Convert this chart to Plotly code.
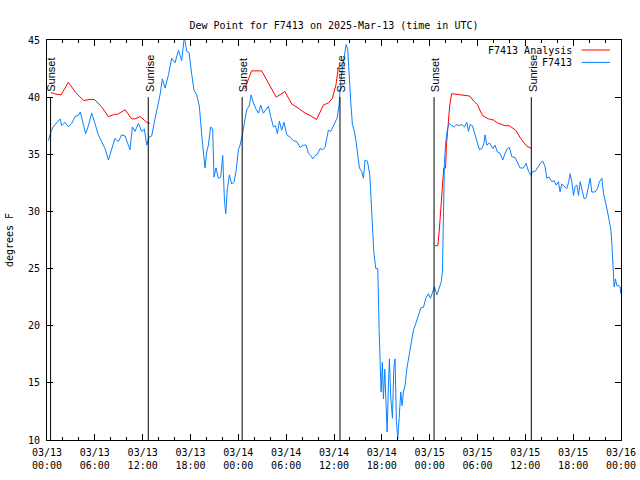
import plotly.graph_objects as go
import pandas as pd

START = pd.Timestamp("2025-03-13 00:00")
END = pd.Timestamp("2025-03-16 00:00")

# F7413 observations: hours since 2025-03-13 00:00 UTC, dew point (F)
obs_hours = [
    0.17, 0.50, 0.79, 1.21, 1.63, 1.84, 2.26, 2.68, 3.10, 3.51, 3.93, 4.18, 4.56, 4.85,
    5.19, 5.60, 6.02, 6.44, 6.86, 7.28, 7.70, 8.11, 8.53, 8.95, 9.37, 9.79, 10.20, 10.41,
    10.71, 11.04, 11.46, 11.88, 12.21, 12.51, 12.80, 13.13, 13.55, 13.97, 14.18, 14.47,
    14.81, 15.22, 15.64, 16.06, 16.48, 16.90, 17.23, 17.52, 17.82, 18.15, 18.44, 18.78,
    19.11, 19.41, 19.62, 19.82, 20.03, 20.24, 20.53, 20.78, 20.95, 21.20, 21.50, 21.79,
    22.04, 22.25, 22.42, 22.63, 22.88, 23.17, 23.46, 23.71, 24.01, 24.22, 24.50, 24.76,
    25.05, 25.35, 25.60, 25.89, 26.18, 26.52, 26.81, 27.14, 27.48, 27.77, 28.06, 28.40,
    28.65, 28.90, 29.15, 29.44, 29.74, 30.07, 30.49, 30.90, 31.33, 31.74, 32.16, 32.50,
    32.79, 33.08, 33.33, 33.63, 33.92, 34.25, 34.59, 34.88, 35.09, 35.30, 35.60, 35.85,
    36.14, 36.40, 36.64, 36.81, 37.05, 37.30, 37.52, 37.72, 37.89, 38.10, 38.31, 38.56,
    38.77, 38.98, 39.19, 39.48, 39.69, 39.90, 40.19, 40.49, 40.74, 40.99, 41.24, 41.49,
    41.66, 41.78, 41.91, 42.07, 42.20, 42.37, 42.50, 42.66, 42.83, 42.95, 43.13, 43.33,
    43.50, 43.66, 43.83, 44.00, 44.17, 44.38, 44.54, 44.71, 44.92, 45.13, 45.42, 45.67,
    45.96, 46.26, 46.59, 46.93, 47.22, 47.52, 47.84, 48.10, 48.35, 48.60, 48.90, 49.19,
    49.44, 49.60, 49.73, 49.85, 50.03, 50.23, 50.44, 50.78, 51.11, 51.41, 51.69, 52.03,
    52.36, 52.66, 52.86, 53.07, 53.36, 53.70, 54.04, 54.24, 54.54, 54.79, 54.95, 55.17,
    55.50, 55.92, 56.20, 56.50, 56.83, 57.17, 57.46, 57.76, 58.00, 58.30, 58.72, 59.00,
    59.35, 59.76, 60.10, 60.40, 60.69, 60.94, 61.23, 61.52, 61.86, 62.19, 62.48, 62.70,
    62.98, 63.32, 63.61, 63.86, 64.15, 64.36, 64.57, 64.87, 65.20, 65.45, 65.62, 65.83,
    66.04, 66.25, 66.46, 66.67, 66.88, 67.10, 67.38, 67.63, 67.92, 68.13, 68.34, 68.76,
    69.05, 69.30, 69.60, 69.80, 70.22, 70.55, 70.73, 70.85, 70.98, 71.06, 71.14, 71.30,
    71.48, 71.75, 71.90, 71.97,
]
obs_dewpoint = [
    36.2, 37.0, 37.4, 37.8, 38.1, 37.5, 37.8, 37.4, 37.7, 38.3, 38.4, 38.7, 37.5, 36.8,
    37.5, 38.6, 37.7, 36.7, 36.1, 35.5, 34.5, 35.4, 36.4, 36.1, 36.7, 36.6, 35.8, 35.4,
    37.4, 37.0, 37.7, 37.0, 37.2, 35.8, 36.5, 36.6, 38.1, 39.5, 40.2, 41.6,
    40.8, 41.9, 43.4, 43.0, 44.1, 43.2, 45.3, 44.0, 43.9, 42.0, 40.6, 40.2,
    39.2, 36.7, 34.9, 33.8, 35.2, 35.8, 37.4, 37.2, 33.0, 33.8, 32.9, 33.0,
    34.9, 31.1, 29.8, 32.0, 33.2, 32.4, 32.6, 33.5, 35.4, 35.8, 36.7, 37.8,
    38.9, 39.2, 40.2, 39.5, 39.0, 38.6, 39.3, 38.6, 38.9, 39.2, 38.3, 37.4,
    37.5, 36.8, 37.9, 37.1, 37.8, 36.7, 36.5, 36.2, 36.1, 35.6, 35.8, 35.8,
    35.1, 34.9, 34.6, 34.9, 35.0, 35.5, 35.4, 35.6, 36.4, 37.1, 37.0, 37.4,
    37.8, 38.2, 39.3, 41.1, 42.5, 43.7, 44.6, 44.2, 41.9, 39.6, 37.6, 37.0,
    36.1, 34.9, 33.8, 33.5, 32.9, 34.5, 34.4, 33.2, 29.4, 26.5, 25.0, 25.0,
    19.7, 17.1, 14.2, 16.8, 13.6, 16.2, 12.7, 10.7, 14.8, 17.1, 13.6, 11.9,
    16.2, 17.1, 11.6, 10.1, 11.9, 14.2, 13.0, 14.2, 14.8, 16.2, 17.4, 18.6,
    19.6, 20.2, 20.9, 21.6, 21.6, 22.4, 22.8, 22.4, 22.9, 23.4, 22.7, 23.2,
    23.8, 24.7, 30.8, 34.3, 36.1, 37.2, 37.7, 37.5, 37.4, 37.6, 37.5, 37.6,
    37.4, 37.8, 37.0, 37.6, 37.5, 36.7, 36.1, 35.4, 35.5, 35.9, 36.7, 35.8,
    36.0, 35.5, 35.8, 35.2, 35.1, 34.5, 35.1, 35.5, 35.6, 34.8, 34.7, 34.3,
    33.8, 33.8, 34.2, 33.5, 33.2, 33.5, 33.5, 33.8, 34.2, 34.4, 33.9, 32.9,
    33.0, 32.6, 32.7, 32.3, 32.6, 31.7, 32.4, 32.2, 32.0, 32.6, 33.3, 32.6,
    31.4, 32.2, 32.3, 31.4, 32.6, 31.9, 31.1, 31.2, 32.2, 32.9, 31.7, 31.7,
    32.0, 32.6, 32.9, 31.6, 30.3, 29.1, 28.4, 27.2, 25.7, 24.3, 23.4, 24.1,
    23.5, 23.5, 23.4, 22.8,
]

# F7413 Analysis (night-time segments, None separates them)
ana_hours = [
    0.50, 0.92, 1.76, 2.68, 3.60, 4.60, 5.40, 5.94, 6.80, 7.70, 8.50, 8.87, 9.80, 10.60,
    11.04, 11.70, 12.50, 12.90, None,
    24.80, 25.14, 25.65, 26.93, 27.80, 28.75, 29.84, 30.70, 31.60, 32.37, 33.00, 33.82,
    34.67, 35.30, 35.80, 36.25, 36.55, 36.85, None,
    48.68, 49.02, 49.19, 49.35, 49.60, 49.77, 50.00, 50.10, 50.31, 50.52, 50.75, 51.70,
    53.00, 53.60, 54.00, 54.40, 54.72, 55.37, 56.00, 56.50, 57.46, 58.00, 58.80, 59.40,
    59.69, 60.18, 60.81,
]
ana_dewpoint = [
    40.4, 40.3, 40.2, 41.3, 40.4, 39.7, 39.8, 39.8, 39.2, 38.3, 38.5, 38.5, 38.9, 38.1,
    38.1, 38.3, 37.8, 37.7, None,
    40.7, 41.3, 42.3, 42.3, 41.2, 40.0, 40.5, 39.4, 39.0, 38.6, 38.4, 38.05,
    39.3, 39.5, 39.9, 41.1, 42.6, 42.8, None,
    27.0, 27.0, 28.2, 29.7, 31.4, 33.8, 33.8, 35.8, 37.5, 39.3, 40.3, 40.2,
    40.1, 39.6, 39.35, 38.7, 38.35, 38.1, 38.0, 37.75, 37.5, 37.5, 37.1, 36.4,
    36.1, 35.7, 35.5,
]

sunset_hours = [0.45, 24.48, 48.55]
sunrise_hours = [12.70, 36.75, 60.75]

tick_hours = [0, 6, 12, 18, 24, 30, 36, 42, 48, 54, 60, 66, 72]
tick_labels = [
    "03/13<br>00:00", "03/13<br>06:00", "03/13<br>12:00", "03/13<br>18:00",
    "03/14<br>00:00", "03/14<br>06:00", "03/14<br>12:00", "03/14<br>18:00",
    "03/15<br>00:00", "03/15<br>06:00", "03/15<br>12:00", "03/15<br>18:00",
    "03/16<br>00:00",
]
y_ticks = [10, 15, 20, 25, 30, 35, 40, 45]


def to_time(hours):
    return [None if h is None else START + pd.Timedelta(hours=h) for h in hours]


RED = "#ff0000"
BLUE = "#0a80ff"
MONO = "DejaVu Sans Mono"

fig = go.Figure()
fig.add_trace(go.Scatter(x=to_time(ana_hours), y=ana_dewpoint, mode="lines",
                         line=dict(color=RED, width=1), name="F7413 Analysis",
                         connectgaps=False, showlegend=False))
fig.add_trace(go.Scatter(x=to_time(obs_hours), y=obs_dewpoint, mode="lines",
                         line=dict(color=BLUE, width=1), name="F7413",
                         showlegend=False))

shapes = []
annotations = []
for label, hours in (("Sunset", sunset_hours), ("Sunrise", sunrise_hours)):
    for t in to_time(hours):
        shapes.append(dict(type="line", xref="x", yref="y", x0=t, x1=t, y0=10, y1=40,
                           line=dict(color="black", width=1), layer="above"))
        annotations.append(dict(x=t, y=40, xref="x", yref="y", text=label,
                                textangle=-90, showarrow=False, xanchor="center",
                                yanchor="bottom", yshift=3, xshift=1,
                                font=dict(family="Liberation Sans", size=11, color="black")))

# gnuplot-style legend: text on the left, sample line on the right
legend_items = [("F7413 Analysis", RED, 0.975), ("F7413", BLUE, 0.944)]
for text, color, yp in legend_items:
    annotations.append(dict(x=0.918, y=yp, xref="paper", yref="paper", text=text,
                            showarrow=False, xanchor="right", yanchor="middle",
                            font=dict(family=MONO, size=10, color="black")))
    shapes.append(dict(type="line", xref="paper", yref="paper", x0=0.9315, x1=0.9808,
                       y0=yp, y1=yp, line=dict(color=color, width=1)))

fig.update_layout(
    width=640, height=480,
    margin=dict(l=47, r=19, t=40, b=40, pad=0, autoexpand=False),
    paper_bgcolor="white", plot_bgcolor="white",
    font=dict(family=MONO, size=10, color="black"),
    title=dict(text="Dew Point for F7413 on 2025-Mar-13 (time in UTC)",
               x=0.5, xref="paper", y=1 - 25 / 480, yanchor="middle",
               font=dict(family=MONO, size=10, color="black")),
    shapes=shapes, annotations=annotations,
    showlegend=False,
)
fig.update_xaxes(
    type="date", range=[START, END], automargin=False,
    tickvals=to_time(tick_hours), ticktext=tick_labels,
    ticks="inside", ticklen=6, tickcolor="black", tickwidth=1,
    ticklabelstandoff=3,
    minor=dict(dtick=2 * 3600 * 1000, tick0=START, ticks="inside", ticklen=3,
               tickcolor="black", tickwidth=1, showgrid=False),
    showline=True, linecolor="black", linewidth=1, mirror="allticks",
    showgrid=False, zeroline=False,
    tickfont=dict(family=MONO, size=10, color="black"),
)
fig.update_yaxes(
    range=[10, 45], tickvals=y_ticks, automargin=False,
    ticks="inside", ticklen=6, tickcolor="black", tickwidth=1,
    ticklabelstandoff=4,
    showline=True, linecolor="black", linewidth=1, mirror="allticks",
    showgrid=False, zeroline=False,
    title=dict(text="degrees F", standoff=12, font=dict(family=MONO, size=10)),
    tickfont=dict(family=MONO, size=10, color="black"),
)

fig.write_html("out.html")
